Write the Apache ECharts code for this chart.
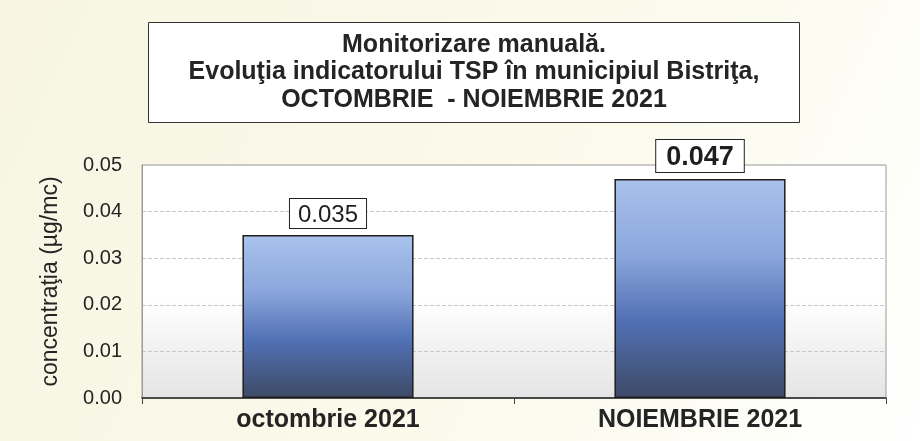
<!DOCTYPE html>
<html>
<head>
<meta charset="utf-8">
<script src="https://cdn.jsdelivr.net/npm/echarts@6/dist/echarts.min.js"></script>
<style>
  html, body { margin: 0; padding: 0; }
  #chart { width: 920px; height: 441px; }
</style>
</head>
<body>
<div id="chart"></div>
<script>
// date
const categories = ['octombrie 2021', 'NOIEMBRIE 2021']
const values = [0.035, 0.047]
const yTicks = [0, 0.01, 0.02, 0.03, 0.04, 0.05]

const chart = echarts.init(document.getElementById('chart'))

const sans = '"Liberation Sans", Arial, sans-serif'

const option = {
  backgroundColor: new echarts.graphic.LinearGradient(0, 0, 1, 1, [
    { offset: 0, color: '#f7f5e2' },
    { offset: 0.6, color: '#fbfaec' },
    { offset: 1, color: '#ffffff' },
  ]),
  title: {
    text: 'Monitorizare manuală.\nEvoluţia indicatorului TSP în municipiul Bistriţa,\nOCTOMBRIE  - NOIEMBRIE 2021',
    left: 434, // centrul casetei la x≈474
    top: 22,
    padding: [9, 40, 9, 40],
    backgroundColor: '#ffffff',
    borderColor: '#333333',
    borderWidth: 1,
    textAlign: 'center',
    textStyle: {
      fontFamily: sans,
      fontWeight: 'bold',
      fontSize: 25,
      lineHeight: 27.5,
      color: '#242424',
    },
  },
  grid: {
    left: 142,
    right: 34,
    top: 165,
    bottom: 43,
    show: true,
    borderColor: '#9a9a9a',
    borderWidth: 1,
    backgroundColor: new echarts.graphic.LinearGradient(0, 0, 0, 1, [
      { offset: 0, color: '#ffffff' },
      { offset: 0.58, color: '#ffffff' },
      { offset: 1, color: '#e4e4e4' },
    ]),
  },
  xAxis: {
    type: 'category',
    data: categories,
    axisLine: { lineStyle: { color: '#222222', width: 1.5 } },
    axisTick: { show: true, length: 6, lineStyle: { color: '#444444' } },
    axisLabel: {
      fontFamily: sans,
      fontWeight: 'bold',
      fontSize: 25,
      color: '#242424',
      margin: 10,
    },
  },
  yAxis: {
    type: 'value',
    min: 0,
    max: yTicks[yTicks.length - 1],
    interval: 0.01,
    name: 'concentraţia (µg/mc)',
    nameLocation: 'middle',
    nameGap: 80,
    nameTextStyle: { fontFamily: sans, fontSize: 23, color: '#242424' },
    axisLine: { show: true, lineStyle: { color: '#9a9a9a' } },
    axisTick: { show: false },
    axisLabel: {
      fontFamily: sans,
      fontSize: 20,
      color: '#242424',
      margin: 20,
      formatter: (v) => v.toFixed(2),
    },
    splitLine: { lineStyle: { color: '#c8c8c8', type: [4, 2] } },
  },
  series: [
    {
      type: 'bar',
      data: values.map((v, i) => ({
        value: v,
        label: i === 1
          ? { fontSize: 27, fontWeight: 'bold', padding: [4, 10, 1, 10], distance: 7 }
          : { fontSize: 24, fontWeight: 'normal', padding: [4, 8, 1, 8], distance: 7 },
      })),
      barWidth: '46%',
      itemStyle: {
        borderColor: '#1e1e1e',
        borderWidth: 1.5,
        color: new echarts.graphic.LinearGradient(0, 0, 0, 1, [
          { offset: 0, color: '#a9c3ec' },
          { offset: 0.35, color: '#8aa6dc' },
          { offset: 0.65, color: '#5170b4' },
          { offset: 1, color: '#3e4a66' },
        ]),
      },
      label: {
        show: true,
        position: 'top',
        fontFamily: sans,
        color: '#1e1e1e',
        backgroundColor: '#ffffff',
        borderColor: '#222222',
        borderWidth: 1,
        formatter: (p) => p.value.toFixed(3),
      },
    },
  ],
}

chart.setOption(option)
</script>
</body>
</html>
